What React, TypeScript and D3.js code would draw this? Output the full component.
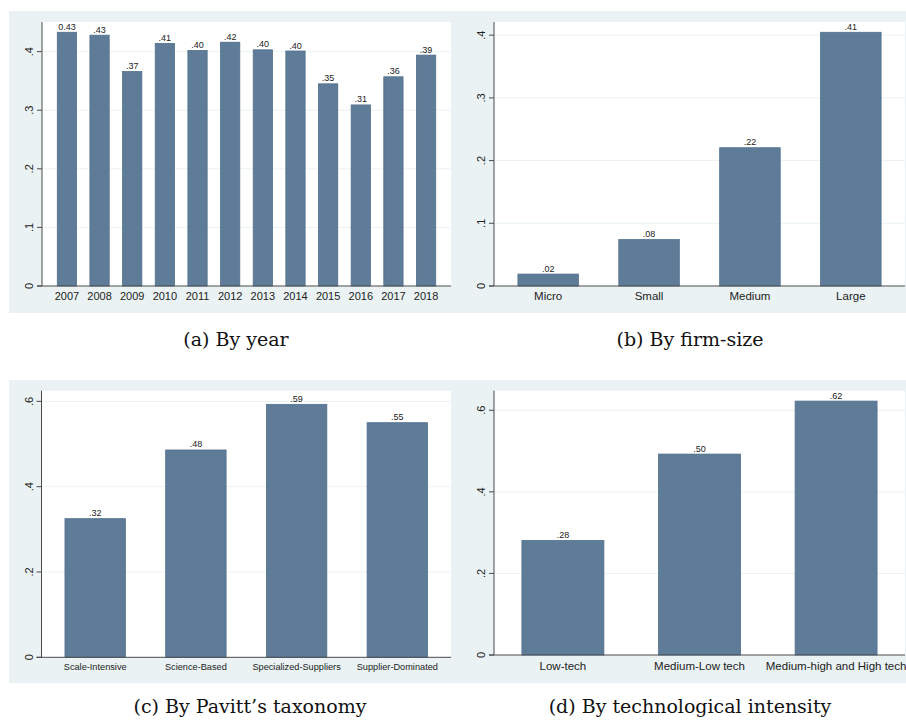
import React from "react";
import * as d3 from "d3";

// ---- data ----
const yearCats = ["2007","2008","2009","2010","2011","2012","2013","2014","2015","2016","2017","2018"];
const yearVals = [0.433,0.428,0.366,0.414,0.402,0.416,0.403,0.401,0.345,0.309,0.357,0.394];
const yearLbls = ["0.43",".43",".37",".41",".40",".42",".40",".40",".35",".31",".36",".39"];
const yearTicks = [0,0.1,0.2,0.3,0.4];
const yearTickLbls = ["0",".1",".2",".3",".4"];

const sizeCats = ["Micro","Small","Medium","Large"];
const sizeVals = [0.019,0.074,0.2205,0.4046];
const sizeLbls = [".02",".08",".22",".41"];
const sizeTicks = [0,0.1,0.2,0.3,0.4];
const sizeTickLbls = ["0",".1",".2",".3",".4"];

const pavittCats = ["Scale-Intensive","Science-Based","Specialized-Suppliers","Supplier-Dominated"];
const pavittVals = [0.325,0.486,0.593,0.550];
const pavittLbls = [".32",".48",".59",".55"];
const pavittTicks = [0,0.2,0.4,0.6];
const pavittTickLbls = ["0",".2",".4",".6"];

const techCats = ["Low-tech","Medium-Low tech","Medium-high and High tech"];
const techVals = [0.281,0.4926,0.6225];
const techLbls = [".28",".50",".62"];
const techTicks = [0,0.2,0.4,0.6];
const techTickLbls = ["0",".2",".4",".6"];

const captions = ["(a) By year","(b) By firm-size","(c) By Pavitt\u2019s taxonomy","(d) By technological intensity"];

const BG = "#eaf2f3";
const BAR = "#5e7c98";
const BAR_STROKE = "#52708c";
const AXIS = "#4a4a4a";
const SANS = "'Liberation Sans', Arial, sans-serif";

type PanelProps = {
  bg: [number, number, number, number];
  plot: { x0: number; x1: number; top: number; bottom: number };
  yMax: number; // value at plot top
  cats: string[]; vals: number[]; lbls: string[];
  ticks: number[]; tickLbls: string[];
  padInner: number; padOuter: number;
  xFont: number; labelFont: number; xLabelBaseline: number;
};

function Panel(p: PanelProps) {
  const { x0, x1, top, bottom } = p.plot;
  const x = d3.scaleBand<string>().domain(p.cats).range([x0, x1]).paddingInner(p.padInner).paddingOuter(p.padOuter);
  const y = d3.scaleLinear().domain([0, p.yMax]).range([bottom, top]);
  return (
    <g>
      <rect x={p.bg[0]} y={p.bg[1]} width={p.bg[2]} height={p.bg[3]} fill={BG} />
      <rect x={x0} y={top} width={x1 - x0} height={bottom - top} fill="#ffffff" />
      {p.ticks.filter((t) => t > 0).map((t, i) => (
        <line key={"g" + i} x1={x0} x2={x1} y1={y(t)} y2={y(t)} stroke={BG} strokeWidth={1} />
      ))}
      {p.cats.map((c, i) => (
        <g key={c}>
          <rect x={x(c)!} y={y(p.vals[i])} width={x.bandwidth()} height={y(0) - y(p.vals[i])} fill={BAR} stroke={BAR_STROKE} strokeWidth={0.8} />
          <text x={x(c)! + x.bandwidth() / 2} y={y(p.vals[i]) - 2.5} textAnchor="middle" fontFamily={SANS} fontSize={p.labelFont} fill="#222">{p.lbls[i]}</text>
          <text x={x(c)! + x.bandwidth() / 2} y={p.xLabelBaseline} textAnchor="middle" fontFamily={SANS} fontSize={p.xFont} fill="#222">{c}</text>
        </g>
      ))}
      <line x1={x0} x2={x0} y1={top} y2={bottom} stroke={AXIS} strokeWidth={1} />
      <line x1={x0 - 5} x2={x1} y1={bottom} y2={bottom} stroke={AXIS} strokeWidth={1} />
      {p.ticks.map((t, i) => (
        <g key={"t" + i}>
          <line x1={x0 - 5} x2={x0} y1={y(t)} y2={y(t)} stroke={AXIS} strokeWidth={1} />
          <text transform={`translate(${x0 - 9},${y(t)}) rotate(-90)`} textAnchor="middle" fontFamily={SANS} fontSize={11} fill="#222">{p.tickLbls[i]}</text>
        </g>
      ))}
    </g>
  );
}

export default function App() {
  return (
    <svg width={906} height={720} style={{ position: "absolute", left: 0, top: 0, background: "#fff" }}>
      <Panel bg={[9, 11, 443, 302]} plot={{ x0: 42, x1: 451, top: 22, bottom: 286 }} yMax={0.4505}
        cats={yearCats} vals={yearVals} lbls={yearLbls} ticks={yearTicks} tickLbls={yearTickLbls}
        padInner={0.41} padOuter={0.468} xFont={11} labelFont={9} xLabelBaseline={300} />
      <Panel bg={[452, 11, 454, 302]} plot={{ x0: 494, x1: 905, top: 22, bottom: 286 }} yMax={0.421}
        cats={sizeCats} vals={sizeVals} lbls={sizeLbls} ticks={sizeTicks} tickLbls={sizeTickLbls}
        padInner={0.4} padOuter={0.237} xFont={11.5} labelFont={9} xLabelBaseline={300} />
      <Panel bg={[9, 380, 443, 303]} plot={{ x0: 41.5, x1: 451, top: 390.7, bottom: 657.3 }} yMax={0.625}
        cats={pavittCats} vals={pavittVals} lbls={pavittLbls} ticks={pavittTicks} tickLbls={pavittTickLbls}
        padInner={0.4} padOuter={0.233} xFont={9.2} labelFont={9} xLabelBaseline={669.5} />
      <Panel bg={[452, 380, 454, 303]} plot={{ x0: 494, x1: 905, top: 390.7, bottom: 655 }} yMax={0.648}
        cats={techCats} vals={techVals} lbls={techLbls} ticks={techTicks} tickLbls={techTickLbls}
        padInner={0.4} padOuter={0.2045} xFont={11.5} labelFont={9} xLabelBaseline={669.5} />
      {captions.map((c, i) => (
        <text key={c} x={[236, 690, 250, 690][i]} y={[346, 346, 713, 713][i]} textAnchor="middle"
          fontFamily="'DejaVu Serif', serif" fontSize={19} fill="#111">{c}</text>
      ))}
    </svg>
  );
}
